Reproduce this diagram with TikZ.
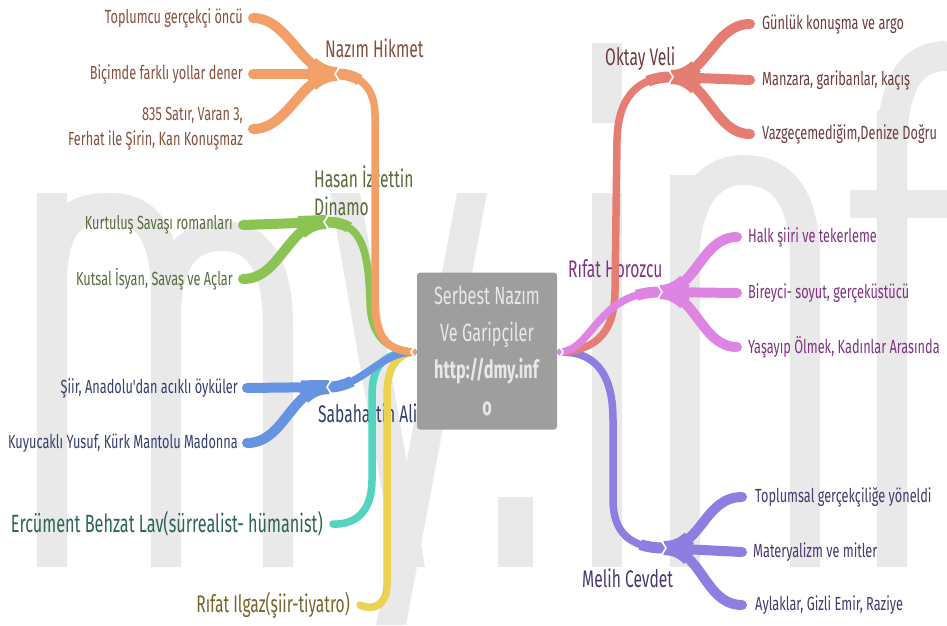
\documentclass[tikz,border=0pt]{standalone}
\usepackage{fontspec}
\newfontfamily\lab[FakeStretch=0.67]{Fira Sans}
\newfontfamily\labt[FakeStretch=0.65]{Fira Sans}
\definecolor{wm}{RGB}{233,233,233}
\definecolor{rootbg}{RGB}{158,158,158}
\definecolor{rootfg}{RGB}{232,232,232}
\definecolor{cor}{RGB}{242,160,104}
\definecolor{tor}{RGB}{135,80,60}
\definecolor{cgr}{RGB}{140,196,84}
\definecolor{tgr}{RGB}{88,108,58}
\definecolor{cbl}{RGB}{102,148,226}
\definecolor{tbl}{RGB}{52,62,112}
\definecolor{cte}{RGB}{82,212,190}
\definecolor{tte}{RGB}{45,100,90}
\definecolor{cye}{RGB}{234,210,82}
\definecolor{tye}{RGB}{118,100,40}
\definecolor{cre}{RGB}{230,125,115}
\definecolor{tre}{RGB}{110,60,60}
\definecolor{cpi}{RGB}{222,132,226}
\definecolor{tpi}{RGB}{128,50,128}
\definecolor{cla}{RGB}{142,126,226}
\definecolor{tla}{RGB}{72,55,112}
\tikzset{
  leafL/.style={anchor=east, inner sep=0pt, align=right, font=\lab\fontsize{19}{25}\selectfont},
  leafR/.style={anchor=west, inner sep=0pt, align=left, font=\lab\fontsize{19}{25}\selectfont},
  topic/.style={inner sep=0pt, align=left, font=\labt\fontsize{24}{28}\selectfont},
  trunk/.style={line width=7.5pt, line cap=round},
  trunkend/.style={line width=11pt, line cap=butt, dash pattern=on 24pt off 2000pt},
  twig/.style={line width=10pt, line cap=round},
  twigthick/.style={line width=14pt, line cap=butt, dash pattern=on 28pt off 2000pt},
  notch/.style={draw=white, line width=1.6pt},
  wmark/.style={fill=wm, draw=none}
}
\newcommand\twigpath[2]{\draw[twig,#1] #2; \draw[twigthick,#1] #2;}
\begin{document}
\begin{tikzpicture}[x=1pt,y=-1pt]
\useasboundingbox (0,0) rectangle (947,625);
\fill[white] (0,0) rectangle (947,625);
% ---------- watermark "my.inf" ----------
\begin{scope}[wm, line width=30pt]
  \fill[wmark] (37,193) rectangle (67,567);
  \draw (52,275) .. controls (55,215) and (80,208) .. (110,208) .. controls (148,208) and (166,235) .. (166,295) -- (166,567);
  \draw (166,305) .. controls (170,250) and (195,236) .. (222,236) .. controls (260,236) and (278,268) .. (278,325) -- (278,567);
  \fill[wmark] (330,193) -- (360,193) -- (425,567) -- (395,567) -- cycle;
  \fill[wmark] (457,193) -- (487,193) -- (406,625) -- (376,625) -- cycle;
  \fill[wmark] (498,497) rectangle (533,567);
  \fill[wmark] (592,43) rectangle (622,123);
  \fill[wmark] (592,193) rectangle (622,567);
  \fill[wmark] (670,175) rectangle (700,567);
  \draw (685,245) .. controls (690,190) and (715,170) .. (743,170) .. controls (785,170) and (805,200) .. (805,262) -- (805,567);
  \fill[wmark] (877,110) rectangle (907,567);
  \draw (892,150) .. controls (892,85) and (910,56) .. (947,56);
  \fill[wmark] (850,190) rectangle (947,218);
\end{scope}
% ---------- root ----------
\node[fill=rootbg, rounded corners=3pt, minimum width=140pt, minimum height=157pt, inner sep=0pt,
      text=rootfg, align=center, font=\labt\fontsize{25}{37}\selectfont] (root) at (487,351)
  {Serbest Nazım\\Ve Garipçiler\\\textbf{http://dmy.inf}\\\textbf{o}};
\coordinate (rl) at (413,352);
\coordinate (rr) at (561,352);
% ---------- labels left ----------
\node[topic, text=tor, anchor=base west] (nh) at (325,57) {Nazım Hikmet};
\node[leafL, text=tor] (nh1) at (243,18) {Toplumcu gerçekçi öncü};
\node[leafL, text=tor] (nh2) at (243,74) {Biçimde farklı yollar dener};
\node[leafL, text=tor] (nh3) at (243,129) {835 Satır, Varan 3,\\Ferhat ile Şirin, Kan Konuşmaz};
\coordinate (jnh) at (337,74);
\node[topic, text=tgr, anchor=west] (hd) at (314,191) {Hasan İzzettin\\Dinamo};
\node[leafL, text=tgr] (hd1) at (233,225) {Kurtuluş Savaşı romanları};
\node[leafL, text=tgr] (hd2) at (233,279) {Kutsal İsyan, Savaş ve Açlar};
\coordinate (jhd) at (326,222);
\node[topic, text=tbl, anchor=base west] (sa) at (318,422) {Sabahattin Ali};
\node[leafL, text=tbl] (sa1) at (238,388) {Şiir, Anadolu'dan acıklı öyküler};
\node[leafL, text=tbl] (sa2) at (238,443) {Kuyucaklı Yusuf, Kürk Mantolu Madonna};
\coordinate (jsa) at (329,387);
\node[topic, text=tte, anchor=east, font=\labt\fontsize{25}{28}\selectfont] (eb) at (323,524) {Ercüment Behzat Lav(sürrealist- hümanist)};
\node[topic, text=tye, anchor=east] (ri) at (350,605) {Rıfat Ilgaz(şiir-tiyatro)};
% ---------- labels right ----------
\node[topic, text=tre, anchor=base west] (ov) at (605,65) {Oktay Veli};
\node[leafR, text=tre] (ov1) at (762,24) {Günlük konuşma ve argo};
\node[leafR, text=tre] (ov2) at (762,80) {Manzara, garibanlar, kaçış};
\node[leafR, text=tre] (ov3) at (762,134) {Vazgeçemediğim,Denize Doğru};
\coordinate (jov) at (671,77);
\node[topic, text=tpi, anchor=base west] (rh) at (568,277) {Rıfat Horozcu};
\node[leafR, text=tpi] (rh1) at (748,237) {Halk şiiri ve tekerleme};
\node[leafR, text=tpi] (rh2) at (748,293) {Bireyci- soyut, gerçeküstücü};
\node[leafR, text=tpi] (rh3) at (748,347) {Yaşayıp Ölmek, Kadınlar Arasında};
\coordinate (jrh) at (660,292);
\node[topic, text=tla, anchor=base west] (mc) at (582,587) {Melih Cevdet};
\node[leafR, text=tla] (mc1) at (755,497) {Toplumsal gerçekçiliğe yöneldi};
\node[leafR, text=tla] (mc2) at (753,552) {Materyalizm ve mitler};
\node[leafR, text=tla] (mc3) at (755,605) {Aylaklar, Gizli Emir, Raziye};
\coordinate (jmc) at (664,548);
% ---------- trunks left ----------
\draw[trunk, cye] (rl) .. controls (395,355) and (387,370) .. (387,395) -- (387,585) .. controls (387,603) and (375,612) .. ([xshift=10pt]ri.east);
\draw[trunk, cte] (rl) .. controls (385,352) and (372,365) .. (372,395) -- (372,480) .. controls (372,512) and (355,525) .. ([xshift=10pt]eb.east);
\draw[trunk, cbl] (rl) .. controls (380,352) and (362,387) .. (jsa);
\draw[trunkend, cbl] (jsa) .. controls (362,387) and (380,352) .. (rl);
\draw[trunk, cgr] (rl) .. controls (382,350) and (370,330) .. (370,300) .. controls (368,245) and (360,222) .. (jhd);
\draw[trunkend, cgr] (jhd) .. controls (355,222) and (368,240) .. (369,275);
\draw[trunk, cor] (rl) .. controls (385,350) and (375,335) .. (375,300) -- (375,115) .. controls (375,90) and (362,74) .. (jnh);
\draw[trunkend, cor] (jnh) .. controls (362,74) and (375,90) .. (375,115);
% ---------- trunks right ----------
\draw[trunk, cla] (rr) .. controls (600,352) and (613,380) .. (613,420) -- (613,500) .. controls (613,532) and (630,548) .. (jmc);
\draw[trunkend, cla] (jmc) .. controls (630,548) and (613,532) .. (613,500);
\draw[trunk, cre] (rr) .. controls (598,350) and (615,330) .. (615,290) -- (617,140) .. controls (618,95) and (640,77) .. (jov);
\draw[trunkend, cre] (jov) .. controls (640,77) and (618,95) .. (617,140);
\draw[trunk, cpi] (rr) .. controls (592,350) and (598,292) .. (jrh);
\draw[trunkend, cpi] (jrh) .. controls (598,292) and (592,350) .. (rr);
% ---------- twigs ----------
\twigpath{cor}{(jnh) .. controls +(-36,0) and +(36,0) .. ([xshift=10pt]nh1.east)}
\twigpath{cor}{(jnh) -- ([xshift=10pt]nh2.east)}
\twigpath{cor}{(jnh) .. controls +(-36,0) and +(36,0) .. ([xshift=10pt]nh3.east)}
\twigpath{cgr}{(jhd) -- ([xshift=10pt]hd1.east)}
\twigpath{cgr}{(jhd) .. controls +(-38,0) and +(38,0) .. ([xshift=10pt]hd2.east)}
\twigpath{cbl}{(jsa) -- ([xshift=9pt]sa1.east)}
\twigpath{cbl}{(jsa) .. controls +(-38,0) and +(38,0) .. ([xshift=9pt]sa2.east)}
\twigpath{cre}{(jov) .. controls +(36,0) and +(-36,0) .. ([xshift=-12pt]ov1.west)}
\twigpath{cre}{(jov) -- ([xshift=-12pt]ov2.west)}
\twigpath{cre}{(jov) .. controls +(36,0) and +(-36,0) .. ([xshift=-12pt]ov3.west)}
\twigpath{cpi}{(jrh) .. controls +(36,0) and +(-36,0) .. ([xshift=-11pt]rh1.west)}
\twigpath{cpi}{(jrh) -- ([xshift=-11pt]rh2.west)}
\twigpath{cpi}{(jrh) .. controls +(36,0) and +(-36,0) .. ([xshift=-11pt]rh3.west)}
\twigpath{cla}{(jmc) .. controls +(38,0) and +(-38,0) .. ([xshift=-13pt]mc1.west)}
\twigpath{cla}{(jmc) -- ([xshift=-11pt]mc2.west)}
\twigpath{cla}{(jmc) .. controls +(38,0) and +(-38,0) .. ([xshift=-13pt]mc3.west)}
% ---------- notches ----------
\foreach \c in {jnh,jhd,jsa,rl}{
  \draw[notch] ([shift={(3,-8)}]\c) -- ([shift={(-2,0)}]\c) -- ([shift={(3,8)}]\c);
}
\foreach \c in {jov,jrh,jmc,rr}{
  \draw[notch] ([shift={(-3,-8)}]\c) -- ([shift={(2,0)}]\c) -- ([shift={(-3,8)}]\c);
}
\end{tikzpicture}
\end{document}
